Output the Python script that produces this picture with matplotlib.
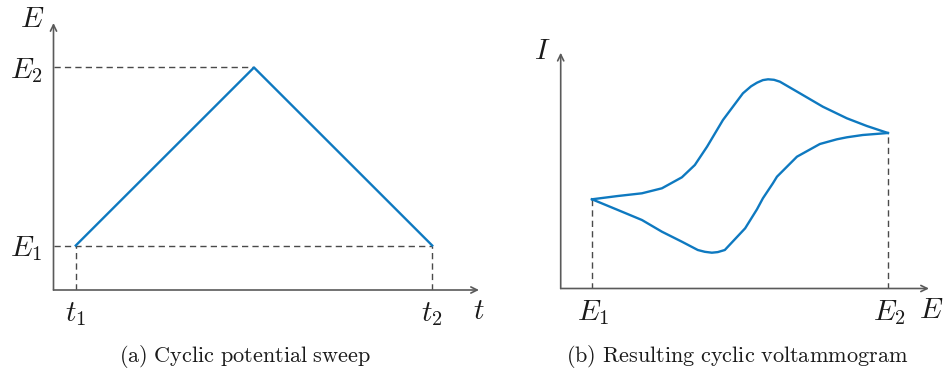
import matplotlib
matplotlib.use("Agg")
import matplotlib.pyplot as plt

plt.rcParams["mathtext.fontset"] = "cm"
plt.rcParams["lines.scale_dashes"] = False

# (a) triangular potential sweep
sweep_t = [0.5, 4.5, 8.5]
sweep_E = [1.0, 5.0, 1.0]
t1, t2 = 0.5, 8.5
E1_a, E2_a = 1.0, 5.0

# (b) cyclic voltammogram, potential in V and current in arbitrary units
fwd_E = [-0.200, -0.130, -0.065, -0.011, 0.043, 0.078, 0.111, 0.154, 0.208,
         0.230, 0.246, 0.262, 0.276, 0.292, 0.308, 0.362, 0.424, 0.489, 0.543, 0.600]
fwd_I = [0.00, 0.33, 0.60, 1.10, 2.20, 3.43, 5.26, 7.93, 10.60,
         11.30, 11.66, 11.92, 12.00, 11.95, 11.76, 10.60, 9.26, 8.10, 7.33, 6.63]
rev_E = [0.600, 0.532, 0.489, 0.462, 0.416, 0.354, 0.300, 0.289, 0.262,
         0.246, 0.214, 0.159, 0.140, 0.124, 0.105, 0.086, 0.043, -0.011, -0.065,
         -0.130, -0.200]
rev_I = [6.63, 6.43, 6.20, 6.00, 5.53, 4.26, 2.26, 1.60, 0.10,
         -1.00, -2.90, -5.07, -5.28, -5.34, -5.25, -5.07, -4.24, -3.24, -2.07,
         -1.07, 0.00]
E1_b, E2_b = -0.2, 0.6

captions = ["(a) Cyclic potential sweep", "(b) Resulting cyclic voltammogram"]

BLUE = "#0e79c0"
AXIS = "#5a5a5a"
DASH = "#4a4a4a"
TXT = "#1a1a1a"

W, H = 943, 369
fig = plt.figure(figsize=(W / 100, H / 100), dpi=100)


def px_axes(x0, y_bottom, x1, y_top):
    return fig.add_axes([x0 / W, 1 - y_bottom / H, (x1 - x0) / W, (y_bottom - y_top) / H])


def draw_frame(ax):
    ax.set_axis_off()
    arrow = dict(arrowstyle="->,head_length=0.45,head_width=0.22", color=AXIS,
                 lw=1.2, shrinkA=0, shrinkB=0)
    ax.annotate("", xy=(1, 0), xytext=(0, 0), xycoords="axes fraction",
                textcoords="axes fraction", arrowprops=arrow)
    ax.annotate("", xy=(0, 1), xytext=(0, 0), xycoords="axes fraction",
                textcoords="axes fraction", arrowprops=arrow)


def label(ax, s, xy, coords, dx, dy, ha="center", va="center", size=21):
    ax.annotate(s, xy=xy, xycoords=coords, xytext=(dx, dy), textcoords="offset pixels",
                ha=ha, va=va, fontsize=size, color=TXT, annotation_clip=False)


dash_kw = dict(color=DASH, lw=1.0, dashes=(4.5, 3.0), zorder=1)
curve_kw = dict(color=BLUE, lw=1.7, zorder=3, solid_joinstyle="round")

# ---- panel (a)
axa = px_axes(53.5, 290, 479, 23)
axa.set_xlim(0, 9.55)
axa.set_ylim(0, 6)
draw_frame(axa)
axa.plot([0, t2], [E1_a, E1_a], **dash_kw)
axa.plot([0, sweep_t[1]], [E2_a, E2_a], **dash_kw)
axa.plot([t1, t1], [0, E1_a], **dash_kw)
axa.plot([t2, t2], [0, E1_a], **dash_kw)
axa.plot(sweep_t, sweep_E, **curve_kw)

label(axa, r"$E$", (0, 1), "axes fraction", -21, 4)
label(axa, r"$E_2$", (0, E2_a), ("axes fraction", "data"), -11, -3, ha="right")
label(axa, r"$E_1$", (0, E1_a), ("axes fraction", "data"), -11, -3, ha="right")
label(axa, r"$t_1$", (t1, 0), ("data", "axes fraction"), 0, -24)
label(axa, r"$t_2$", (t2, 0), ("data", "axes fraction"), 0, -24)
label(axa, r"$t$", (1, 0), "axes fraction", 0, -21)

# ---- panel (b)
axb = px_axes(560.7, 288.5, 929, 52.7)
axb.set_xlim(-0.2846, 0.711)
axb.set_ylim(-8.92, 14.66)
draw_frame(axb)
axb.plot([E1_b, E1_b], [axb.get_ylim()[0], fwd_I[0]], **dash_kw)
axb.plot([E2_b, E2_b], [axb.get_ylim()[0], fwd_I[-1]], **dash_kw)
axb.plot(fwd_E, fwd_I, **curve_kw)
axb.plot(rev_E, rev_I, **curve_kw)

label(axb, r"$I$", (0, 1), "axes fraction", -18, 2)
label(axb, r"$E_1$", (E1_b, 0), ("data", "axes fraction"), 1, -24)
label(axb, r"$E_2$", (E2_b, 0), ("data", "axes fraction"), 1, -24)
label(axb, r"$E$", (1, 0), "axes fraction", 2, -21)

# ---- captions
for cx, text in zip([245, 737], captions):
    s = r"$\mathrm{" + text.replace(" ", r"\ ") + "}$"
    fig.text(cx / W, 1 - 357 / H, s, ha="center", va="center", fontsize=16, color=TXT)

fig.savefig("out.png", dpi=100)
